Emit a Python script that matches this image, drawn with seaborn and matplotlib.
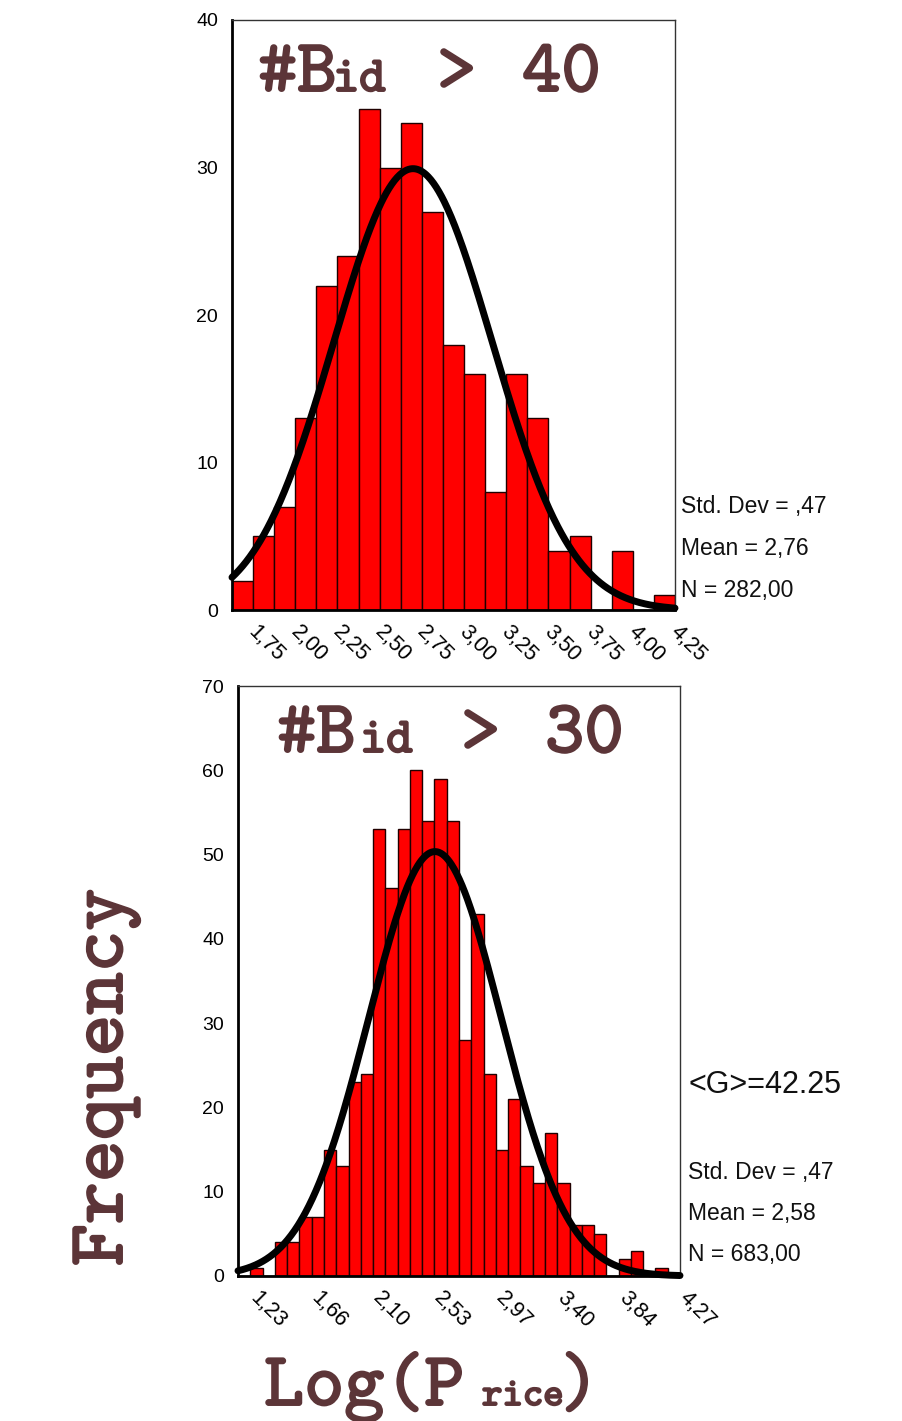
import numpy as np
import pandas as pd
import matplotlib
matplotlib.use("Agg")
import matplotlib.pyplot as plt
import matplotlib.patheffects as pe
from matplotlib.transforms import ScaledTranslation
import seaborn as sns

# ---- upper panel: auctions with more than 40 bids ----
top_first_center = 1.75
top_bin_width = 0.125
top_counts = [2, 5, 7, 13, 22, 24, 34, 30, 33, 27, 18, 16, 8, 16, 13, 4, 5, 0, 4, 0, 1]
top_ticks = [1.75, 2.00, 2.25, 2.50, 2.75, 3.00, 3.25, 3.50, 3.75, 4.00, 4.25]
top_tick_labels = ["1,75", "2,00", "2,25", "2,50", "2,75", "3,00", "3,25", "3,50",
                   "3,75", "4,00", "4,25"]
top_yticks = [0, 10, 20, 30, 40]
top_mean, top_sd, top_n = 2.76, 0.47, 282
top_stat_lines = ["Std. Dev = ,47", "Mean = 2,76", "N = 282,00"]

# ---- lower panel: auctions with more than 30 bids ----
bot_first_center = 1.23
bot_last_center = 4.27
bot_counts = [0, 1, 0, 4, 4, 7, 7, 15, 13, 23, 24, 53, 46, 53, 60, 54, 59, 54,
              28, 43, 24, 15, 21, 13, 11, 17, 11, 6, 6, 5, 0, 2, 3, 0, 1, 0]
bot_ticks = [1.23, 1.66, 2.10, 2.53, 2.97, 3.40, 3.84, 4.27]
bot_tick_labels = ["1,23", "1,66", "2,10", "2,53", "2,97", "3,40", "3,84", "4,27"]
bot_yticks = [0, 10, 20, 30, 40, 50, 60, 70]
bot_mean, bot_sd, bot_n = 2.58, 0.47, 683
bot_stat_lines = ["Std. Dev = ,47", "Mean = 2,58", "N = 683,00"]
bot_extra = "<G>=42.25"

sns.set_style("white")
plt.rcParams["font.family"] = ["Liberation Sans", "DejaVu Sans"]

W, H = 902, 1421
fig = plt.figure(figsize=(W / 100, H / 100), dpi=100)
fig.patch.set_facecolor("white")

TITLE_COLOR = "#5c3538"
MONO = "cmtt10"
BIG = 54
STROKE = 1.4


def fx(px):
    return px / W


def fy(py):
    return 1 - py / H


def mono_text(x, y, s, size, **kw):
    t = fig.text(fx(x), fy(y), s, fontsize=size, family=MONO, color=TITLE_COLOR,
                 va="baseline", ha="left", **kw)
    t.set_path_effects([pe.withStroke(linewidth=STROKE, foreground=TITLE_COLOR)])
    return t


def draw_panel(ax, first_center, width, counts, mean, sd, n, ymax, yticks,
               ticks, ticklabels):
    counts = np.asarray(counts, dtype=float)
    centers = first_center + width * np.arange(len(counts))
    lo = centers[0] - width / 2
    hi = centers[-1] + width / 2
    df = pd.DataFrame({"price": centers, "freq": counts})
    sns.histplot(data=df, x="price", weights="freq", binwidth=width,
                 binrange=(lo, hi), stat="count",
                 color="#ff0000", alpha=1, edgecolor="#200000", linewidth=1.0, ax=ax)
    xs = np.linspace(lo, hi, 500)
    ys = n * width * np.exp(-0.5 * ((xs - mean) / sd) ** 2) / (sd * np.sqrt(2 * np.pi))
    sns.lineplot(x=xs, y=ys, color="black", linewidth=5, estimator=None,
                 ax=ax, clip_on=False, zorder=5)
    ax.set_xlim(lo, hi)
    ax.set_ylim(0, ymax)
    ax.set_xlabel("")
    ax.set_ylabel("")
    ax.set_yticks(yticks)
    ax.set_yticklabels([str(v) for v in yticks], fontsize=14)
    ax.set_xticks(ticks)
    ax.tick_params(axis="x", labelbottom=False)
    # slanted tick labels hanging down-right from each tick
    offset = ScaledTranslation(9 / 100, -19 / 100, fig.dpi_scale_trans)
    for t, lab in zip(ticks, ticklabels):
        ax.text(t, 0, lab, transform=ax.get_xaxis_transform() + offset,
                fontsize=15.5, rotation=-45, rotation_mode="anchor",
                ha="left", va="center", color="black", clip_on=False)
    ax.tick_params(axis="both", direction="out", length=4, width=2.6,
                   color="black", labelcolor="black")
    ax.tick_params(axis="y", pad=6)
    for side in ("top", "right"):
        ax.spines[side].set_linewidth(1.0)
        ax.spines[side].set_color("#333333")
    for side in ("left", "bottom"):
        ax.spines[side].set_linewidth(2.0)
        ax.spines[side].set_color("black")
    ax.set_facecolor("white")


ax_top = fig.add_axes([fx(232), fy(610), fx(675) - fx(232), 590 / H])
draw_panel(ax_top, top_first_center, top_bin_width, top_counts, top_mean, top_sd,
           top_n, 40, top_yticks, top_ticks, top_tick_labels)

bot_bin_width = (bot_last_center - bot_first_center) / (len(bot_counts) - 1)
ax_bot = fig.add_axes([fx(238), fy(1276), fx(680) - fx(238), 590 / H])
draw_panel(ax_bot, bot_first_center, bot_bin_width, bot_counts, bot_mean, bot_sd,
           bot_n, 70, bot_yticks, bot_ticks, bot_tick_labels)

# panel titles
mono_text(258, 91, "#B", BIG)
mono_text(333, 91, "id", 36)
mono_text(437, 91, ">", BIG)
mono_text(522, 91, "40", BIG)

mono_text(277, 752, "#B", BIG)
mono_text(360, 752, "id", 36)
mono_text(461, 752, ">", BIG)
mono_text(545, 752, "30", BIG)

# axis titles
mono_text(264, 1405, "Log(P", 55)
mono_text(482, 1405, "rice", 28)
mono_text(560, 1405, ")", 55)

freq = fig.text(fx(122), fy(1266), "Frequency", fontsize=57.5, family=MONO,
                color=TITLE_COLOR, rotation=90, rotation_mode="anchor",
                ha="left", va="baseline")
freq.set_path_effects([pe.withStroke(linewidth=STROKE, foreground=TITLE_COLOR)])

# summary statistics
for i, s in enumerate(top_stat_lines):
    fig.text(fx(681), fy(507 + 41.5 * i), s, fontsize=16.5, ha="left", va="center",
             color="#111111")
fig.text(fx(688), fy(1085), bot_extra, fontsize=22, ha="left", va="center",
         color="#111111")
for i, s in enumerate(bot_stat_lines):
    fig.text(fx(688), fy(1172 + 41.5 * i), s, fontsize=16.5, ha="left", va="center",
             color="#111111")

fig.savefig("out.png", dpi=100, facecolor="white")
